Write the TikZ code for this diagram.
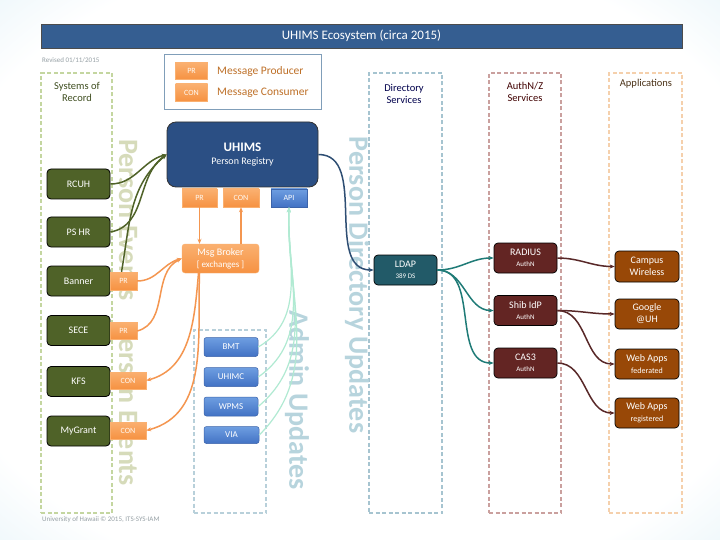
\documentclass[tikz,border=0pt]{standalone}
\usepackage{fontspec}
\setmainfont{Carlito}
\usetikzlibrary{arrows.meta,shadings}
\definecolor{bgblue}{RGB}{196,228,240}
\definecolor{titlebar}{RGB}{53,94,145}
\definecolor{uhimsblue}{RGB}{43,79,132}
\definecolor{olivefill}{RGB}{79,98,40}
\definecolor{orangeA}{RGB}{250,176,112}
\definecolor{orangeB}{RGB}{246,146,66}
\definecolor{orangeline}{RGB}{244,150,80}
\definecolor{blueA}{RGB}{110,158,225}
\definecolor{blueB}{RGB}{66,114,196}
\definecolor{blueline}{RGB}{60,100,170}
\definecolor{ldapcol}{RGB}{34,90,104}
\definecolor{authcol}{RGB}{99,37,35}
\definecolor{appcol}{RGB}{152,72,7}
\definecolor{sorbox}{RGB}{196,214,160}
\definecolor{adminbox}{RGB}{184,208,218}
\definecolor{dirbox}{RGB}{166,196,208}
\definecolor{authbox}{RGB}{202,160,158}
\definecolor{appbox}{RGB}{245,208,172}
\definecolor{pevcol}{RGB}{214,219,186}
\definecolor{pducol}{RGB}{183,212,221}
\definecolor{legtext}{RGB}{190,112,40}
\definecolor{legborder}{RGB}{128,158,185}
\definecolor{mint}{RGB}{176,234,210}
\definecolor{darkconn}{RGB}{46,78,115}
\definecolor{tealconn}{RGB}{31,123,119}
\definecolor{redconn}{RGB}{88,40,40}
\definecolor{graytext}{RGB}{150,160,165}
\pgfdeclareradialshading{bgshade}{\pgfpoint{0bp}{0bp}}{color(0bp)=(white); color(30bp)=(white); color(52bp)=(bgblue); color(100bp)=(bgblue)}
\tikzset{
  every node/.style={inner sep=0pt, align=center},
  olive/.style={rounded corners=4pt, draw=black, line width=0.8pt, fill=olivefill, text=white,
    font=\fontsize{10}{11}\selectfont, minimum width=63pt, minimum height=30pt},
  tag/.style={top color=orangeA, bottom color=orangeB, draw=orangeA, line width=0.4pt, text=white!95!orange,
    font=\fontsize{8}{9}\selectfont, minimum height=17pt},
  blueb/.style={rounded corners=2.5pt, top color=blueA, bottom color=blueB, draw=blueline, line width=0.5pt,
    text=white, font=\fontsize{9}{10}\selectfont, minimum width=54pt, minimum height=19pt},
  authn/.style={rounded corners=4pt, draw=black, line width=0.7pt, fill=authcol, text=white,
    font=\fontsize{10}{11}\selectfont, minimum width=63pt, minimum height=30pt},
  appn/.style={rounded corners=4pt, draw=black, line width=0.7pt, fill=appcol, text=white,
    font=\fontsize{10}{12}\selectfont, minimum width=64pt, minimum height=30pt},
  dashbox/.style={draw, line width=1.3pt, dash pattern=on 4pt off 2.5pt},
  vtext/.style={rotate=-90, font=\fontsize{28}{28}\selectfont\bfseries},
  coltitle/.style={font=\fontsize{10.5}{12.5}\selectfont},
  arr/.style={-{Stealth[length=5pt,width=4pt]}},
  oliveconn/.style={arr, draw=olivefill, line width=1.5pt},
  orangeconn/.style={arr, draw=orangeline, line width=1.5pt},
  mintconn/.style={arr, draw=mint, line width=1.2pt},
  darkc/.style={arr, draw=darkconn, line width=1.5pt},
  tealc/.style={arr, draw=tealconn, line width=1.5pt},
  redc/.style={arr, draw=redconn, line width=1.5pt},
}
\begin{document}
\begin{tikzpicture}[x=1pt,y=-1pt]
\useasboundingbox (0,0) rectangle (720,540);
\fill[shading=bgshade] (0,0) rectangle (720,540);

% title bar
\node[fill=titlebar, draw=black!70, line width=0.6pt, minimum width=641pt, minimum height=24pt,
  text=white, font=\fontsize{13}{14}\selectfont] (title) at (361.5,36) {UHIMS Ecosystem (circa 2015)};
\node[anchor=west, text=graytext, font=\fontsize{7}{8}\selectfont] (rev) at (42,60) {Revised 01/11/2015};
\node[anchor=west, text=graytext, font=\fontsize{7}{8}\selectfont] (foot) at (42,520) {University of Hawaii \textcopyright{} 2015, ITS-SYS-IAM};

% dashed column boxes
\node[dashbox, draw=sorbox, minimum width=71pt, minimum height=440pt] (sorbox) at (76.5,293) {};
\node[dashbox, draw=adminbox, minimum width=72pt, minimum height=183pt] (admbox) at (230,421.5) {};
\node[dashbox, draw=dirbox, minimum width=73pt, minimum height=440pt] (dirbox) at (405.5,293) {};
\node[dashbox, draw=authbox, minimum width=72pt, minimum height=440pt] (authbox) at (525,293) {};
\node[dashbox, draw=appbox, minimum width=73pt, minimum height=440pt] (appbox) at (645.5,293) {};

\node[coltitle, text=olivefill!80!black] (sortitle) at (77,92) {Systems of\\Record};
\node[coltitle, text=black!70!blue] (dirtitle) at (404,94) {Directory\\Services};
\node[coltitle, text=black!75!red] (authtitle) at (525,92) {AuthN/Z\\Services};
\node[coltitle, text=black!60!brown] (apptitle) at (646,84) {Applications};

% big vertical labels
\node[vtext, text=pevcol] (pe1) at (128,220) {Person Events};
\node[vtext, text=pevcol] (pe2) at (128,405) {Person Events};
\node[vtext, text=pducol] (pdu) at (357,285) {Person Directory Updates};
\node[vtext, text=pducol] (adu) at (297,400) {Admin Updates};

% legend
\node[draw=legborder, line width=0.7pt, fill=white, minimum width=157pt, minimum height=55pt] (legend) at (242.5,81.5) {};
\node[tag, minimum width=32pt] (legpr) at (191.5,71) {PR};
\node[tag, minimum width=32pt] (legcon) at (191.5,92.5) {CON};
\node[anchor=west, text=legtext, font=\fontsize{11.5}{12}\selectfont] (legprt) at (217,71) {Message Producer};
\node[anchor=west, text=legtext, font=\fontsize{11.5}{12}\selectfont] (legcont) at (217,93) {Message Consumer};

% UHIMS
\node[rounded corners=9pt, draw=black!80, line width=0.8pt, fill=uhimsblue, text=white,
  minimum width=151pt, minimum height=65pt] (uhims) at (242.5,154.5)
  {{\fontsize{13}{15}\selectfont\bfseries UHIMS}\\[1pt]{\fontsize{10}{11}\selectfont Person Registry}};
\node[tag, minimum width=35pt, minimum height=18pt] (pr) at (199.5,198) {PR};
\node[tag, minimum width=36pt, minimum height=18pt] (con) at (241,198) {CON};
\node[blueb, minimum width=36pt, minimum height=18pt, rounded corners=0pt, font=\fontsize{8}{9}\selectfont] (api) at (289,198) {API};

% message broker
\node[rounded corners=3pt, top color=orangeA, bottom color=orangeB, draw=orangeA, text=white,
  minimum width=77pt, minimum height=29pt, font=\fontsize{10}{12}\selectfont] (broker) at (220.5,258.5)
  {Msg Broker\\{\fontsize{9}{10}\selectfont [ exchanges ]}};

% systems of record
\node[olive] (rcuh) at (78.5,184) {RCUH};
\node[olive] (pshr) at (78.5,232) {PS HR};
\node[olive] (banner) at (78.5,281) {Banner};
\node[olive] (sece) at (78.5,330.5) {SECE};
\node[olive] (kfs) at (78.5,381.5) {KFS};
\node[olive] (mygrant) at (78.5,431) {MyGrant};
\node[tag, minimum width=27pt, minimum height=18pt] (bannerpr) at (123.5,281) {PR};
\node[tag, minimum width=27pt] (secepr) at (123.5,331) {PR};
\node[tag, minimum width=36pt] (kfscon) at (128,380.5) {CON};
\node[tag, minimum width=36pt] (mygcon) at (128,430.5) {CON};

% admin apps
\node[blueb] (bmt) at (231,347) {BMT};
\node[blueb] (uhimc) at (231,377) {UHIMC};
\node[blueb] (wpms) at (231,406.5) {WPMS};
\node[blueb, minimum width=55pt, minimum height=17pt] (via) at (231.5,435) {VIA};

% directory / auth / apps
\node[rounded corners=4pt, draw=black, line width=0.7pt, fill=ldapcol, text=white,
  minimum width=63pt, minimum height=30pt, font=\fontsize{10}{11}\selectfont] (ldap) at (405.5,270)
  {LDAP\\{\fontsize{7}{8}\selectfont 389 DS}};
\node[authn] (radius) at (525.5,258) {RADIUS\\{\fontsize{7}{8}\selectfont AuthN}};
\node[authn] (shib) at (525.5,310.5) {Shib IdP\\{\fontsize{7}{8}\selectfont AuthN}};
\node[authn] (cas) at (525.5,363) {CAS3\\{\fontsize{7}{8}\selectfont AuthN}};
\node[appn, minimum height=31pt] (campus) at (647,266.5) {Campus\\Wireless};
\node[appn] (google) at (647,314) {Google\\@UH};
\node[appn] (webfed) at (647,364) {Web Apps\\{\fontsize{8}{9}\selectfont federated}};
\node[appn] (webreg) at (647,413) {Web Apps\\{\fontsize{8}{9}\selectfont registered}};

% connectors: systems of record -> UHIMS
\draw[oliveconn] (rcuh.east) to[out=0,in=195] (uhims.west);
\draw[oliveconn] (pshr.east) to[out=10,in=215] (uhims.west);
\draw[oliveconn] ([xshift=-2pt]bannerpr.north) to[out=80,in=220] (uhims.west);

% orange message flows
\draw[orangeconn] (bannerpr.east) to[out=0,in=195] (broker.west);
\draw[orangeconn] (secepr.east) to[out=15,in=205] (broker.west);
\draw[orangeconn] ([xshift=-22pt]broker.south) to[out=-95,in=15] (kfscon.east);
\draw[orangeconn] ([xshift=-21pt]broker.south) to[out=-92,in=15] (mygcon.east);
\draw[orangeconn] (pr.south) -- (pr.south |- broker.north);
\draw[orangeconn] (con.south |- broker.north) -- (con.south);

% admin updates
\draw[mintconn] (bmt.east) to[out=30,in=-92] (api.south);
\draw[mintconn] (uhimc.east) to[out=35,in=-92] (api.south);
\draw[mintconn] (wpms.east) to[out=40,in=-92] (api.south);
\draw[mintconn] (via.east) to[out=45,in=-92] (api.south);

% directory updates
\draw[darkc] (uhims.east) to[out=0,in=180] (ldap.west);
\draw[tealc] (ldap.east) to[out=0,in=180] (radius.west);
\draw[tealc] (ldap.east) to[out=0,in=180] (shib.west);
\draw[tealc] (ldap.east) to[out=0,in=180] (cas.west);

% auth -> apps
\draw[redc] (radius.east) to[out=0,in=180] (campus.west);
\draw[redc] (shib.east) to[out=0,in=180] (google.west);
\draw[redc] (shib.east) to[out=0,in=180] (webfed.west);
\draw[redc] (cas.east) to[out=0,in=180] (webreg.west);
\end{tikzpicture}
\end{document}
